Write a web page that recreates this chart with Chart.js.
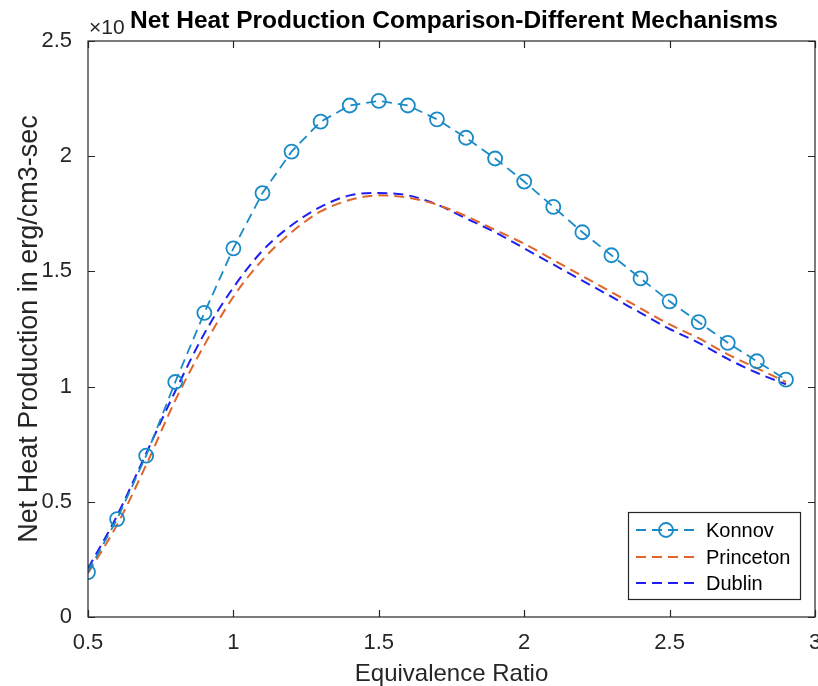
<!DOCTYPE html>
<html>
<head>
<meta charset="utf-8">
<script src="https://cdn.jsdelivr.net/npm/chart.js@4.4.1/dist/chart.umd.min.js"></script>
<style>
  html, body { margin: 0; padding: 0; background: #fff; }
  #wrap { width: 818px; height: 686px; }
</style>
</head>
<body>
<div id="wrap"><canvas id="myChart"></canvas></div>
<script>
// equivalence ratio samples
const phi = [0.5, 0.6, 0.7, 0.8, 0.9, 1.0, 1.1, 1.2, 1.3, 1.4, 1.5, 1.6, 1.7,
             1.8, 1.9, 2.0, 2.1, 2.2, 2.3, 2.4, 2.5, 2.6, 2.7, 2.8, 2.9];

// net heat production (x10^n erg/cm3-sec)
const konnov = [0.195, 0.425, 0.70, 1.02, 1.32, 1.60, 1.84, 2.02, 2.15, 2.22, 2.24, 2.22, 2.16,
                2.08, 1.99, 1.89, 1.78, 1.67, 1.57, 1.47, 1.37, 1.28, 1.19, 1.11, 1.03];
const princeton = [0.19, 0.40, 0.66, 0.94, 1.18, 1.39, 1.55, 1.67, 1.76, 1.81, 1.83, 1.82, 1.79,
                   1.74, 1.68, 1.62, 1.55, 1.48, 1.41, 1.34, 1.27, 1.21, 1.14, 1.08, 1.02];
const dublin = [0.21, 0.44, 0.71, 0.98, 1.23, 1.43, 1.59, 1.70, 1.78, 1.83, 1.84, 1.83, 1.79,
                1.73, 1.67, 1.60, 1.53, 1.46, 1.39, 1.32, 1.25, 1.19, 1.12, 1.06, 1.01];

const xTicks = [0.5, 1, 1.5, 2, 2.5, 3];
const yTicks = [0, 0.5, 1, 1.5, 2, 2.5];

const FONT = "'Liberation Sans', Arial, Helvetica, sans-serif";
const DASH = [10, 6];

const pts = (ys) => phi.map((x, i) => ({ x: x, y: ys[i] }));

// matlab-ish axes box with inward ticks, title and legend
const matlabBox = {
  id: "matlabBox",
  afterDraw(chart) {
    const { ctx, chartArea: a, scales } = chart;
    ctx.save();
    ctx.strokeStyle = "#262626";
    ctx.lineWidth = 1.2;
    ctx.strokeRect(a.left, a.top, a.right - a.left, a.bottom - a.top);
    const tl = 7;
    ctx.beginPath();
    xTicks.forEach((v) => {
      const px = Math.round(scales.x.getPixelForValue(v)) + 0.5;
      ctx.moveTo(px, a.bottom); ctx.lineTo(px, a.bottom - tl);
      ctx.moveTo(px, a.top); ctx.lineTo(px, a.top + tl);
    });
    yTicks.forEach((v) => {
      const py = Math.round(scales.y.getPixelForValue(v)) + 0.5;
      ctx.moveTo(a.left, py); ctx.lineTo(a.left + tl, py);
      ctx.moveTo(a.right, py); ctx.lineTo(a.right - tl, py);
    });
    ctx.stroke();

    // exponent marker and title
    ctx.fillStyle = "#262626";
    ctx.textBaseline = "middle";
    ctx.textAlign = "left";
    ctx.font = "21px " + FONT;
    ctx.fillText("\u00d710", a.left + 1, 28);
    ctx.fillStyle = "#000";
    ctx.font = "bold 24.5px " + FONT;
    ctx.textAlign = "center";
    ctx.fillText("Net Heat Production Comparison-Different Mechanisms", 454, 21);

    // legend
    const bx = 628, by = 512, bw = 172, bh = 87;
    ctx.fillStyle = "#fff";
    ctx.fillRect(bx, by, bw, bh);
    ctx.strokeStyle = "#262626";
    ctx.lineWidth = 1.2;
    ctx.strokeRect(bx + 0.5, by + 0.5, bw, bh);
    const rowY = [530, 557, 583];
    chart.data.datasets.forEach((ds, i) => {
      const y = rowY[i];
      ctx.strokeStyle = ds.borderColor;
      ctx.lineWidth = ds.borderWidth;
      ctx.setLineDash(DASH);
      ctx.beginPath();
      ctx.moveTo(636, y); ctx.lineTo(694, y);
      ctx.stroke();
      ctx.setLineDash([]);
      if (ds.pointRadius > 0) {
        ctx.lineWidth = ds.pointBorderWidth;
        ctx.beginPath();
        ctx.arc(666, y, ds.pointRadius, 0, Math.PI * 2);
        ctx.stroke();
      }
      ctx.fillStyle = "#000";
      ctx.textAlign = "left";
      ctx.font = "20px " + FONT;
      ctx.fillText(ds.label, 706, y + 1);
    });
    ctx.restore();
  },
};

new Chart("myChart", {
  type: "line",
  data: {
    datasets: [
      {
        label: "Konnov",
        data: pts(konnov),
        borderColor: "#1a8ac6",
        borderWidth: 1.8,
        borderDash: DASH,
        pointRadius: 7,
        pointBorderWidth: 1.8,
        pointBorderColor: "#1a8ac6",
        pointBackgroundColor: "rgba(0,0,0,0)",
        tension: 0,
      },
      {
        label: "Princeton",
        data: pts(princeton),
        borderColor: "#e0652a",
        borderWidth: 2,
        borderDash: DASH,
        pointRadius: 0,
        cubicInterpolationMode: "monotone",
      },
      {
        label: "Dublin",
        data: pts(dublin),
        borderColor: "#1f1ff0",
        borderWidth: 2,
        borderDash: DASH,
        pointRadius: 0,
        cubicInterpolationMode: "monotone",
      },
    ],
  },
  options: {
    responsive: true,
    maintainAspectRatio: false,
    animation: false,
    layout: { autoPadding: false, padding: { top: 41, right: 3, left: 0, bottom: 0 } },
    plugins: { legend: { display: false }, tooltip: { enabled: false } },
    scales: {
      x: {
        type: "linear",
        min: 0.5,
        max: 3,
        afterBuildTicks: (s) => { s.ticks = xTicks.map((v) => ({ value: v })); },
        afterFit: (s) => { s.height = 69; s.paddingLeft = 0; s.paddingRight = 0; },
        grid: { display: false, drawTicks: false },
        border: { display: false },
        ticks: {
          color: "#262626",
          font: { family: FONT, size: 22 },
          padding: 13,
          maxRotation: 0,
          callback: (v) => String(v),
        },
        title: {
          display: true,
          text: "Equivalence Ratio",
          color: "#262626",
          font: { family: FONT, size: 24 },
          padding: { top: 0, bottom: -3 },
        },
      },
      y: {
        min: 0,
        max: 2.5,
        afterBuildTicks: (s) => { s.ticks = yTicks.map((v) => ({ value: v })); },
        afterFit: (s) => { s.width = 88; s.paddingTop = 0; s.paddingBottom = 0; },
        grid: { display: false, drawTicks: false },
        border: { display: false },
        ticks: {
          color: "#262626",
          font: { family: FONT, size: 22 },
          padding: 16,
          callback: (v) => String(v),
        },
        title: {
          display: true,
          text: "Net Heat Production in erg/cm3-sec",
          color: "#262626",
          font: { family: FONT, size: 27 },
          padding: { top: 13, bottom: 0 },
        },
      },
    },
  },
  plugins: [matlabBox],
});
</script>
</body>
</html>
